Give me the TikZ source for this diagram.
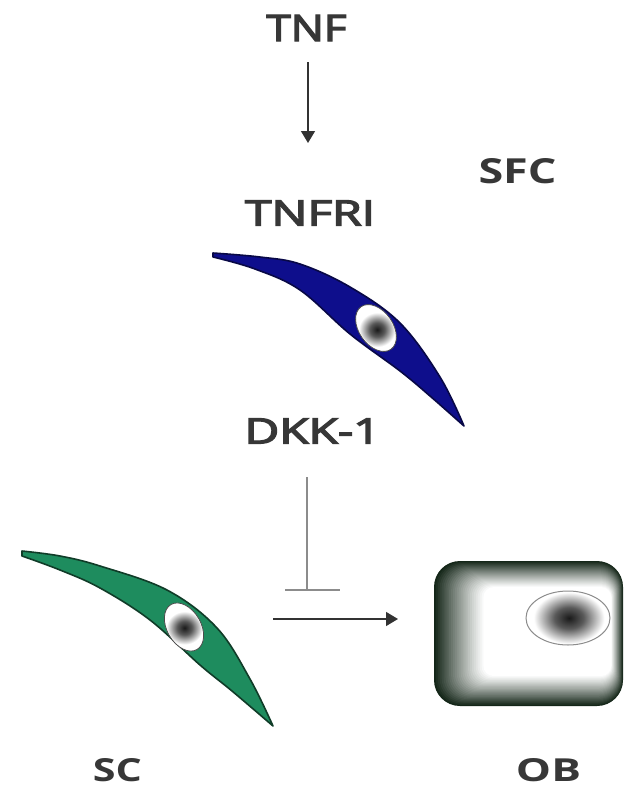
\documentclass[tikz,border=0pt]{standalone}
\usepackage{fontspec}
\usepackage{graphicx}
\setmainfont{Open Sans}
\newfontfamily\medfont[FakeBold=3.5]{Open Sans}
\usetikzlibrary{arrows.meta}

\definecolor{txt}{RGB}{55,55,55}
\definecolor{sfcblue}{RGB}{14,14,140}
\definecolor{sfcedge}{RGB}{8,8,70}
\definecolor{scgreen}{RGB}{30,140,94}
\definecolor{scedge}{RGB}{16,60,40}
\definecolor{obdark}{RGB}{20,38,24}
\definecolor{arrowgray}{RGB}{50,50,50}
\definecolor{inhgray}{RGB}{140,140,140}

% dark nucleus core fading to white well inside the nucleus
\pgfdeclareradialshading{nucore}{\pgfpoint{0bp}{0bp}}{%
  color(0bp)=(black!90); color(7bp)=(black!65); color(17bp)=(white); color(50bp)=(white)}

\tikzset{
  lbl/.style={inner sep=0pt, text=txt},
  act/.style={draw=arrowgray, line width=1.3pt, -{Triangle[length=12pt,width=14pt]}},
  inh/.style={draw=inhgray, line width=1.3pt},
  cellsfc/.style={fill=sfcblue, draw=sfcedge, line width=1.6pt, line join=round},
  cellsc/.style={fill=scgreen, draw=scedge, line width=1.6pt, line join=round},
  nucring/.style={fill=white}
}

\begin{document}
\begin{tikzpicture}[x=1pt,y=-1pt]
\useasboundingbox (0,0) rectangle (624,790);
\fill[white] (0,0) rectangle (624,790);

% labels, boxed to the sizes they print at
\node[lbl] (tnf)   at (306.5,28)   {\resizebox{80pt}{26pt}{\medfont TNF}};
\node[lbl] (tnfri) at (310,213)    {\resizebox{130pt}{25pt}{\medfont TNFRI}};
\node[lbl] (sfc)   at (517.5,171.5){\resizebox{78pt}{25pt}{\bfseries SFC}};
\node[lbl] (dkk)   at (312.5,431)  {\resizebox{136pt}{25pt}{\medfont DKK-1}};
\node[lbl] (sc)    at (117.5,770.5){\resizebox{49pt}{23pt}{\bfseries SC}};
\node[lbl] (ob)    at (548.5,770.5){\resizebox{65pt}{23pt}{\bfseries OB}};

% stromal fibroblast-like cell (blue)
\draw[cellsfc] plot[smooth, tension=0.6] coordinates
  {(213,253) (260,257) (300,264) (350,287) (400,323) (440,377) (464,426)}
  -- plot[smooth, tension=0.6] coordinates
  {(464,426) (430,396) (400,371) (350,334) (300,290) (255,269) (213,257)}
  -- cycle;
\begin{scope}[shift={(376,328)}, rotate=-55]
  \fill[nucring] (0,0) ellipse [x radius=26, y radius=17];
  \begin{scope}
    \clip (0,0) ellipse [x radius=25, y radius=16];
    \shade[shading=nucore] (2,0) ellipse [x radius=28, y radius=22];
  \end{scope}
  \draw[black!70, line width=0.8pt] (0,0) ellipse [x radius=26, y radius=17];
\end{scope}

% stem cell (green)
\draw[cellsc] plot[smooth, tension=0.6] coordinates
  {(22,551) (60,556) (100,566) (167,590) (217,628) (250,679) (273,726)}
  -- plot[smooth, tension=0.6] coordinates
  {(273,726) (232,691) (200,665) (150,620) (100,588) (60,570) (22,556)}
  -- cycle;
\begin{scope}[shift={(184,627)}, rotate=-60]
  \fill[nucring] (0,0) ellipse [x radius=26, y radius=17];
  \begin{scope}
    \clip (0,0) ellipse [x radius=25, y radius=16];
    \shade[shading=nucore] (1,0) ellipse [x radius=28, y radius=22];
  \end{scope}
  \draw[black!70, line width=0.8pt] (0,0) ellipse [x radius=26, y radius=17];
\end{scope}

% osteoblast: rounded block with a dark rim fading inwards
\foreach \i in {0,...,26} {
  \pgfmathsetmacro\pc{100*(1-\i/26)^1.1}
  \pgfmathsetmacro\rc{max(26-\i*0.6,6)}
  \fill[obdark!\pc!white, rounded corners=\rc pt]
    (434+1.9*\i, 561+1.0*\i) rectangle (623-0.45*\i, 706-1.15*\i);
}
\fill[white] (568,618) ellipse [x radius=42, y radius=27];
\begin{scope}
  \clip (568,618) ellipse [x radius=41, y radius=26];
  \shade[shading=nucore] (569,618) ellipse [x radius=52, y radius=38];
\end{scope}
\draw[black!45, line width=1pt] (568,618) ellipse [x radius=42, y radius=27];

% connectors
\coordinate (tnfA) at (308,62);
\coordinate (tnfB) at (308,143);
\draw[act] (tnfA) -- (tnfB);

\coordinate (dkA) at (307,477);
\coordinate (dkB) at (307,590);
\coordinate (barL) at (285,590);
\coordinate (barR) at (340,590);
\draw[inh] (dkA) -- (dkB);
\draw[inh] (barL) -- (barR);

\coordinate (scOut) at (273,619);
\coordinate (obIn) at (398,619);
\draw[act] (scOut) -- (obIn);
\end{tikzpicture}
\end{document}
